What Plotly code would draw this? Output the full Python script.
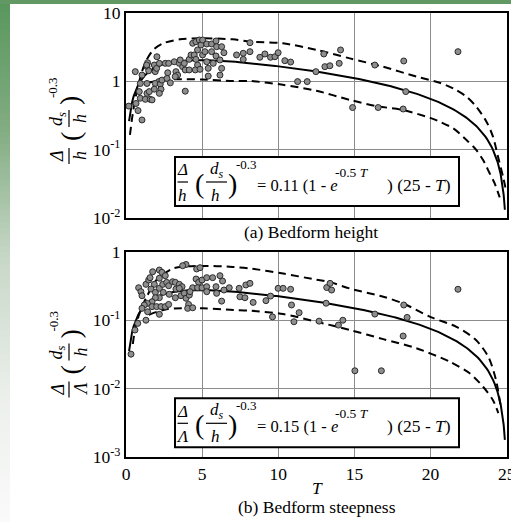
import numpy as np
import plotly.graph_objects as go

W, H = 511, 522
SERIF = "Liberation Serif, Times New Roman, serif"

# ---------------- (a) Bedform height ----------------
T_a = [0.18, 0.61, 0.79, 1.05, 0.94, 1.05, 0.94, 1.27, 1.38, 1.53, 1.59, 1.71, 1.38, 1.38,
       1.42, 1.49, 1.86, 1.92, 2.01, 2.03, 2.19, 2.15, 1.92, 2.25, 2.36, 2.30, 1.86, 2.19,
       2.58, 2.80, 2.74, 2.69, 2.91, 3.17, 3.28, 3.39, 3.23, 3.50, 3.56, 3.72, 3.83, 3.89,
       4.15, 4.15, 4.27, 4.38, 4.59, 4.81, 4.92, 4.70, 4.48, 4.59, 4.70, 4.55, 4.86, 3.89,
       5.03, 0.87, 0.66, 1.36,
       5.03, 5.30, 5.62, 5.91, 5.18, 5.62, 5.95, 6.28, 6.43, 5.91, 6.17, 5.30, 5.73, 5.40,
       5.40, 6.28, 6.17, 7.26, 7.70, 8.14, 8.14, 7.70,
       8.79, 9.12, 9.49, 9.78, 9.99, 10.43, 10.81, 11.27, 11.90, 12.47, 13.06, 13.39, 12.99,
       14.00, 14.09, 14.88, 16.34, 16.56, 18.24, 18.37, 18.20, 21.80]
V_a = [0.43, 1.37, 0.37, 0.27, 0.92, 1.22, 0.56, 0.54, 0.66, 0.70, 0.54, 0.53, 0.92, 1.62,
       1.85, 1.41, 1.71, 1.37, 1.53, 2.26, 1.81, 0.98, 0.92, 0.90, 1.03, 0.76, 0.76, 0.66,
       1.81, 1.81, 1.32, 1.09, 0.94, 1.91, 1.37, 1.22, 1.16, 1.81, 2.03, 1.62, 1.81, 1.45,
       1.45, 2.07, 2.40, 3.55, 3.75, 3.97, 3.36, 2.84, 2.40, 2.07, 1.71, 1.45, 1.48, 0.71,
       2.40, 0.70, 0.47, 1.71,
       3.97, 3.47, 3.47, 3.84, 2.68, 2.68, 3.17, 3.17, 2.59, 2.32, 2.03, 1.91, 1.81, 1.53,
       1.18, 1.53, 1.22, 2.40, 2.54, 3.62, 2.68, 2.07,
       2.22, 2.48, 2.22, 2.26, 2.59, 1.98, 1.89, 0.98, 0.98, 1.37, 1.62, 1.67, 2.48,
       1.81, 2.84, 0.41, 1.71, 0.41, 1.96, 0.70, 0.39, 2.68]

# envelope of the height data
Ta_up = [0.26, 0.48, 0.81, 1.25, 1.79, 2.45, 3.54, 4.86, 7.02, 8.14, 10.30, 12.51, 14.70,
         16.86, 19.07, 20.60, 21.48, 22.36, 23.01, 23.67, 24.10, 24.43, 24.76, 24.98]
Va_up = [0.163, 0.377, 0.875, 1.83, 2.84, 3.55, 4.06, 4.20, 4.06, 3.75, 3.55, 2.84, 2.14,
         1.62, 1.16, 0.944, 0.78, 0.59, 0.42, 0.255, 0.154, 0.0785, 0.040, 0.024]
Ta_lo = [1.45, 2.5, 3.3, 5.0, 7.04, 8.14, 10.3, 12.5, 14.70, 16.45, 18.20, 20.06, 20.60,
         21.48, 22.36, 23.01, 23.45, 23.88, 24.21, 24.54]
Va_lo = [0.95, 1.03, 1.06, 1.05, 1.0, 1.0, 0.88, 0.72, 0.53, 0.43, 0.377, 0.285, 0.255,
         0.204, 0.138, 0.098, 0.070, 0.045, 0.032, 0.020]

# ---------------- (b) Bedform steepness ----------------
T_b = [0.83, 0.98, 1.05, 1.31, 1.49, 1.58, 1.75, 2.19, 2.36, 2.58, 2.19, 1.86, 1.64, 1.93,
       2.19, 2.41, 2.67, 2.80, 2.45, 2.19, 1.93, 1.71, 1.40, 1.20, 1.05, 1.71, 2.01, 2.30,
       2.58, 2.80, 2.19, 1.42, 1.31, 0.77, 3.06, 3.24, 3.50, 3.68, 3.24, 3.61, 3.83, 3.94,
       4.11, 4.05, 4.38, 3.94, 3.72, 4.64, 4.86, 4.60, 4.77, 4.99, 4.38, 4.70, 4.99, 2.84,
       3.28, 3.50, 4.16, 4.20,
       5.30, 5.69, 6.17, 6.34, 5.30, 5.91, 5.30, 5.95, 6.43, 6.78, 7.43, 7.87, 6.28, 7.48, 7.81,
       8.14, 8.35, 9.19, 9.49, 9.62, 9.99, 10.32, 10.81, 10.87, 11.03, 11.37, 12.68, 13.14,
       13.18, 13.40, 13.50, 13.95, 14.24, 15.03, 16.34, 16.77, 18.24, 18.46, 18.20, 21.80,
       0.33, 0.59]
V_b = [0.298, 0.261, 0.228, 0.334, 0.386, 0.418, 0.51, 0.54, 0.50, 0.447, 0.41, 0.334, 0.285,
       0.255, 0.292, 0.334, 0.357, 0.319, 0.255, 0.213, 0.213, 0.186, 0.176, 0.167, 0.149,
       0.158, 0.158, 0.158, 0.158, 0.170, 0.122, 0.133, 0.10, 0.090, 0.365, 0.357, 0.334,
       0.309, 0.213, 0.228, 0.247, 0.209, 0.170, 0.149, 0.152, 0.65, 0.625, 0.56, 0.585, 0.40,
       0.357, 0.386, 0.298, 0.298, 0.298, 0.239, 0.285, 0.292, 0.233, 0.261,
       0.418, 0.418, 0.447, 0.373, 0.309, 0.309, 0.261, 0.247, 0.276, 0.298, 0.292, 0.327,
       0.19, 0.22, 0.213,
       0.345, 0.182, 0.193, 0.225, 0.112, 0.292, 0.292, 0.283, 0.167, 0.095, 0.129, 0.097,
       0.177, 0.30, 0.345, 0.276, 0.085, 0.10, 0.0183, 0.123, 0.0183, 0.167, 0.110, 0.0588,
       0.283, 0.032, 0.072]

# envelope of the steepness data
Tb_up = [0.45, 0.6, 0.92, 1.36, 2.0, 3.1, 5.0, 7.0, 8.14, 10.32, 12.51, 13.4, 14.7, 16.9,
         18.2, 20.06, 21.7, 23.0, 23.8, 24.3, 24.6]
Vb_up = [0.045, 0.075, 0.133, 0.22, 0.386, 0.57, 0.62, 0.60, 0.57, 0.48, 0.39, 0.36, 0.29,
         0.22, 0.176, 0.11, 0.080, 0.051, 0.029, 0.0134, 0.0055]
Tb_lo = [1.5, 2.67, 5.07, 7.04, 8.14, 10.32, 12.51, 14.70, 16.89, 19.07, 21.26, 22.57,
         23.45, 24.1, 24.45]
Vb_lo = [0.12, 0.145, 0.149, 0.141, 0.138, 0.123, 0.095, 0.072, 0.053, 0.039, 0.0248,
         0.0168, 0.0107, 0.0068, 0.0044]

X_TICKS = [0, 5, 10, 15, 20, 25]
YA_TICKS = [0.01, 0.1, 1, 10]
YA_TEXT = ["10<sup>-2</sup>", "10<sup>-1</sup>", "1", "10"]
YB_TICKS = [0.001, 0.01, 0.1, 1]
YB_TEXT = ["10<sup>-3</sup>", "10<sup>-2</sup>", "10<sup>-1</sup>", "1"]


def height_fit(T):
    return 0.11 * (1 - np.exp(-0.5 * T)) * (25 - T)


def steep_fit(T):
    # van Rijn steepness coefficient
    return 0.015 * (1 - np.exp(-0.5 * T)) * (25 - T)


T_fit = np.concatenate([np.arange(0.2, 24.5, 0.1), [24.6, 24.7, 24.8, 24.88]])

fig = go.Figure()

MARK = dict(size=6, color="#8e8e8e", line=dict(color="#2b2b2b", width=1))
DASH = dict(color="black", width=2, dash="8px,5px", shape="spline", smoothing=0.8)

for xa, ya, tx, vy, tu, vu, tl, vl, fit in [
    ("x", "y", T_a, V_a, Ta_up, Va_up, Ta_lo, Va_lo, height_fit),
    ("x2", "y2", T_b, V_b, Tb_up, Vb_up, Tb_lo, Vb_lo, steep_fit),
]:
    fig.add_trace(go.Scatter(x=tu, y=vu, mode="lines", line=DASH, xaxis=xa, yaxis=ya,
                             showlegend=False, hoverinfo="skip"))
    fig.add_trace(go.Scatter(x=tl, y=vl, mode="lines", line=DASH, xaxis=xa, yaxis=ya,
                             showlegend=False, hoverinfo="skip"))
    fig.add_trace(go.Scatter(x=T_fit, y=fit(T_fit), mode="lines",
                             line=dict(color="black", width=2), xaxis=xa, yaxis=ya,
                             showlegend=False))
    fig.add_trace(go.Scatter(x=tx, y=vy, mode="markers", marker=MARK, xaxis=xa, yaxis=ya,
                             showlegend=False))

AX = dict(showline=True, linecolor="black", linewidth=2, mirror=True, showgrid=True,
          gridcolor="#8c8c8c", gridwidth=1, zeroline=False, ticks="", automargin=False,
          tickfont=dict(family=SERIF, size=17.5, color="black"))

x0, x1 = 126 / W, 506.7 / W
fig.update_layout(
    width=W, height=H, margin=dict(l=0, r=0, t=0, b=0),
    paper_bgcolor="white", plot_bgcolor="white",
    font=dict(family=SERIF, color="black"),
    xaxis=dict(AX, domain=[x0, x1], range=[0, 25], tickvals=X_TICKS, showticklabels=False,
               anchor="y"),
    yaxis=dict(AX, domain=[1 - 218 / H, 1 - 12.5 / H], type="log", range=[-2, 1],
               tickvals=YA_TICKS, ticktext=YA_TEXT, anchor="x"),
    xaxis2=dict(AX, domain=[x0, x1], range=[0, 25], tickvals=X_TICKS, anchor="y2",
                ticklabeloverflow="allow"),
    yaxis2=dict(AX, domain=[1 - 457.3 / H, 1 - 251.7 / H], type="log", range=[-3, 0],
                tickvals=YB_TICKS, ticktext=YB_TEXT, anchor="x2"),
)


def P(x, y):
    return x / W, 1 - y / H


shapes = []
# green page frame: band along the top and a fading band down the left side
stops = [(0, (88, 150, 92)), (130, (130, 172, 130)), (260, (200, 216, 200)),
         (400, (236, 240, 236)), (522, (250, 250, 250))]
n = 87
for i in range(n):
    ya_, yb_ = i * H / n, (i + 1) * H / n
    ym = (ya_ + yb_) / 2
    for (s0, c0), (s1, c1) in zip(stops[:-1], stops[1:]):
        if s0 <= ym <= s1:
            f = (ym - s0) / (s1 - s0)
            c = tuple(int(round(a + (b - a) * f)) for a, b in zip(c0, c1))
            break
    shapes.append(dict(type="rect", xref="paper", yref="paper", x0=0, x1=10 / W,
                       y0=1 - yb_ / H, y1=1 - ya_ / H, fillcolor="rgb(%d,%d,%d)" % c,
                       line=dict(width=0), layer="below"))
shapes.append(dict(type="rect", xref="paper", yref="paper", x0=0, x1=1, y0=1 - 4 / H, y1=1,
                   fillcolor="rgb(98,152,100)", line=dict(width=0), layer="below"))


def hline(xa, xb, y):
    a, b = P(xa, y), P(xb, y)
    shapes.append(dict(type="line", xref="paper", yref="paper", x0=a[0], x1=b[0],
                       y0=a[1], y1=b[1], line=dict(color="black", width=1.2), layer="above"))


def vline(x, ya, yb):
    a, b = P(x, ya), P(x, yb)
    shapes.append(dict(type="line", xref="paper", yref="paper", x0=a[0], x1=b[0],
                       y0=a[1], y1=b[1], line=dict(color="black", width=1.2), layer="above"))


annots = []


def txt(s, x, y, size, angle=0, xanchor="center"):
    px, py = P(x, y)
    annots.append(dict(text=s, x=px, y=py, xref="paper", yref="paper", showarrow=False,
                       xanchor=xanchor, yanchor="middle", textangle=angle, borderpad=0,
                       font=dict(family=SERIF, size=size, color="black")))


# equation boxes
for top, coef in [(157, "0.11"), (398.3, "0.15")]:
    bot = top + 49
    a, b = P(175, top), P(459, bot)
    shapes.append(dict(type="rect", xref="paper", yref="paper", x0=a[0], x1=b[0],
                       y0=b[1], y1=a[1], fillcolor="white",
                       line=dict(color="black", width=2), layer="above"))
    den = "<i>h</i>" if coef == "0.11" else "<i>Λ</i>"
    txt("<i>Δ</i>", 182.5, top + 13, 17)
    txt(den, 182.5, top + 38, 17)
    hline(177.5, 188, top + 25)
    txt("(", 199, top + 26, 28)
    txt("<i>d<sub>s</sub></i>", 217, top + 13, 17)
    txt("<i>h</i>", 215.5, top + 38, 17)
    hline(206, 227, top + 25)
    txt(")", 232, top + 26, 28)
    txt("-0.3", 246, top + 7, 13)
    txt("= %s (1 - <i>e</i>" % coef, 256, top + 28, 16.5, xanchor="left")
    txt("-0.5 <i>T</i>", 334, top + 15, 13.5, xanchor="left")
    txt(") (25 - <i>T</i>)", 452, top + 28, 17.5, xanchor="right")

# rotated axis titles
for base, den in [(0, "<i>h</i>"), (233.5, "<i>Λ</i>")]:
    txt("<i>Δ</i>", 57, 156 + base, 18, -90)
    txt(den, 80, 156 + base, 18, -90)
    vline(69, 148 + base, 164 + base)
    txt("(", 70, 137 + base, 28, -90)
    txt("<i>d<sub>s</sub></i>", 57, 119 + base, 18, -90)
    txt("<i>h</i>", 80, 119 + base, 18, -90)
    vline(69, 110 + base, 127 + base)
    txt(")", 70, 101 + base, 28, -90)
    txt("-0.3", 53, 88 + base, 13, -90)

txt("(a) Bedform height", 311, 232, 17.5)
txt("<i>T</i>", 317, 488, 17.5)
txt("(b) Bedform steepness", 317, 507, 17.5)

fig.update_layout(shapes=shapes, annotations=annots)
fig.write_html("out.html")
